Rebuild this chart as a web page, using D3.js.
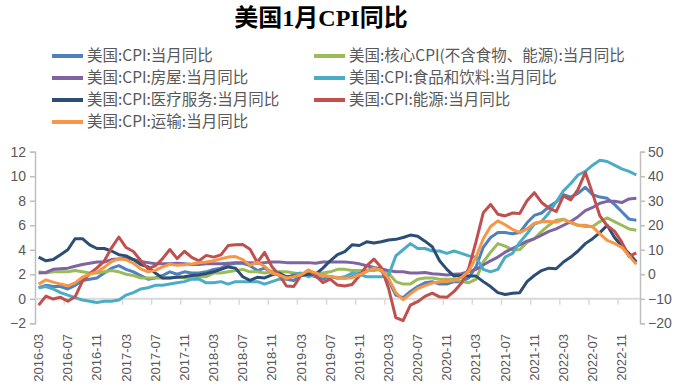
<!DOCTYPE html>
<html>
<head>
<meta charset="utf-8">
<script src="https://cdnjs.cloudflare.com/ajax/libs/d3/7.8.5/d3.min.js"></script>
<style>
  body { margin: 0; background: #fff; }
  svg { display: block; }
</style>
</head>
<body>
<div id="chart"></div>
<script>
// dimensions
var width = 677
var height = 387

// mois : 2016-03 à 2023-01
var months = d3.timeMonths(new Date(2016, 2, 1), new Date(2023, 1, 1)).map(d3.timeFormat("%Y-%m"))

// axe gauche (%)
var cpi = [0.9, 1.1, 1.0, 1.0, 0.8, 1.1, 1.5, 1.6, 1.7, 2.1,
  2.5, 2.7, 2.4, 2.2, 1.9, 1.6, 1.7, 1.9, 2.2, 2.0, 2.2, 2.1,
  2.1, 2.2, 2.4, 2.5, 2.8, 2.9, 2.9, 2.7, 2.3, 2.5, 2.2, 1.9,
  1.6, 1.5, 1.9, 2.0, 1.8, 1.6, 1.8, 1.7, 1.7, 1.8, 2.1, 2.3,
  2.5, 2.3, 1.5, 0.3, 0.1, 0.6, 1.0, 1.3, 1.4, 1.2, 1.2, 1.4,
  1.4, 1.7, 2.6, 4.2, 5.0, 5.4, 5.4, 5.3, 5.4, 6.2, 6.8, 7.0,
  7.5, 7.9, 8.5, 8.3, 8.6, 9.1, 8.5, 8.3, 8.2, 7.7, 7.1, 6.5,
  6.4]
var core = [2.2, 2.1, 2.2, 2.2, 2.2, 2.3, 2.2, 2.1, 2.1, 2.2,
  2.3, 2.2, 2.0, 1.9, 1.7, 1.7, 1.7, 1.7, 1.7, 1.8, 1.7, 1.8,
  1.8, 1.8, 2.1, 2.1, 2.2, 2.3, 2.4, 2.2, 2.2, 2.1, 2.2, 2.2,
  2.2, 2.1, 2.0, 2.1, 2.0, 2.1, 2.2, 2.4, 2.4, 2.3, 2.3, 2.3,
  2.3, 2.4, 2.1, 1.4, 1.2, 1.2, 1.6, 1.7, 1.7, 1.6, 1.6, 1.6,
  1.4, 1.3, 1.6, 3.0, 3.8, 4.5, 4.3, 4.0, 4.0, 4.6, 4.9, 5.5,
  6.0, 6.4, 6.5, 6.2, 6.0, 5.9, 5.9, 6.3, 6.6, 6.3, 6.0, 5.7,
  5.6]
var housing = [2.1, 2.15, 2.4, 2.45, 2.5, 2.65, 2.8, 2.9, 3.0, 3.0,
  3.2, 3.25, 3.3, 3.2, 3.05, 2.95, 2.85, 2.85, 2.85, 2.9, 2.85, 2.8,
  2.8, 2.85, 2.85, 2.85, 2.9, 2.95, 2.95, 2.95, 2.9, 2.95, 3.0, 3.0,
  2.95, 2.95, 2.95, 2.95, 2.9, 3.0, 3.0, 3.0, 3.0, 2.95, 2.85, 2.7,
  2.55, 2.45, 2.3, 2.2, 2.2, 2.1, 2.1, 2.15, 2.05, 2.0, 1.95, 2.0,
  2.05, 2.2, 2.4, 2.75, 3.1, 3.4, 3.8, 4.1, 4.4, 4.7, 4.9, 5.2,
  5.5, 5.7, 6.0, 6.3, 6.7, 7.2, 7.45, 7.8, 7.95, 7.95, 7.85, 8.15,
  8.2]
var food = [0.9, 1.0, 0.8, 0.5, 0.3, 0.1, -0.1, -0.2, -0.3, -0.2,
  -0.2, -0.1, 0.3, 0.5, 0.8, 0.9, 1.1, 1.1, 1.2, 1.3, 1.4, 1.6,
  1.6, 1.3, 1.3, 1.4, 1.2, 1.4, 1.4, 1.4, 1.4, 1.2, 1.4, 1.6,
  1.6, 2.0, 2.1, 1.8, 2.0, 1.9, 1.8, 1.7, 1.8, 2.1, 2.0, 1.8,
  1.8, 1.8, 1.9, 3.5, 4.0, 4.5, 4.1, 4.1, 3.9, 3.9, 3.7, 3.9,
  3.7, 3.5, 3.4, 2.4, 2.2, 2.4, 3.4, 3.7, 4.6, 5.3, 6.1, 6.3,
  7.0, 7.9, 8.8, 9.4, 10.1, 10.4, 10.9, 11.3, 11.2, 10.9, 10.6, 10.4,
  10.1]
var medical = [3.4, 3.1, 3.2, 3.6, 4.0, 4.9, 4.9, 4.4, 4.1, 4.1,
  3.9, 3.6, 3.5, 3.2, 2.8, 2.6, 2.1, 1.7, 1.7, 1.75, 1.8, 1.9,
  1.95, 2.05, 2.2, 2.4, 2.6, 2.5, 1.8, 1.5, 1.75, 1.7, 1.95, 2.1,
  1.8, 1.85, 1.9, 2.0, 2.0, 2.5, 3.1, 3.6, 3.85, 4.4, 4.35, 4.65,
  4.55, 4.65, 4.8, 4.85, 5.0, 5.2, 5.1, 4.7, 4.25, 3.1, 2.4, 1.85,
  1.9, 1.85, 1.85, 1.4, 1.0, 0.5, 0.35, 0.45, 0.5, 1.4, 1.9, 2.3,
  2.5, 2.45, 3.0, 3.4, 3.9, 4.5, 4.9, 5.4, 6.0, 5.0, 4.3, 3.7,
  3.0]

// axe droit (%)
var energy = [-12.6, -8.9, -10.1, -9.4, -11.0, -9.2, -2.9, 0.2, 2.6, 5.4,
  10.8, 15.2, 10.9, 9.3, 5.6, 2.3, 3.4, 6.4, 10.1, 6.4, 9.4, 6.9,
  5.5, 7.7, 7.0, 7.9, 11.7, 12.0, 12.1, 10.2, 4.8, 8.9, 3.1, -0.3,
  -4.8, -5.0, -0.4, 1.7, -0.6, -3.4, -2.0, -4.4, -4.8, -4.2, -0.6, 3.4,
  6.2, 2.8, -5.7, -17.7, -18.9, -12.6, -11.2, -9.0, -7.7, -9.2, -9.4, -7.0,
  -3.6, 2.4, 13.2, 25.1, 28.5, 24.5, 23.8, 25.0, 24.8, 30.0, 33.3, 29.3,
  27.0, 25.6, 32.0, 30.3, 34.6, 41.6, 32.9, 23.8, 19.8, 17.6, 13.1, 7.3,
  8.7]
var transport = [-4.0, -2.3, -3.2, -4.0, -4.7, -3.5, -1.2, 0.0, 1.0, 2.8,
  5.2, 6.3, 5.9, 4.5, 2.2, 1.0, 1.6, 3.0, 4.1, 3.7, 3.9, 4.2,
  4.7, 5.0, 5.5, 6.3, 7.0, 7.2, 6.0, 3.6, 4.9, 3.2, 0.5, -0.3,
  -1.5, -1.0, -0.2, 1.6, 0.6, -0.5, -0.9, -1.3, -1.6, -1.4, -0.2, 1.1,
  2.5, 1.7, -1.6, -7.5, -10.4, -8.0, -5.8, -4.6, -3.6, -3.1, -2.8, -2.6,
  -1.3, 1.2, 7.0, 14.5, 19.5, 21.8, 20.2, 18.3, 17.0, 18.5, 20.8, 21.4,
  21.5, 21.3, 22.3, 21.2, 20.0, 20.0, 19.3, 16.5, 13.8, 12.6, 11.0, 7.5,
  4.1]

var leftTicks = [-2, 0, 2, 4, 6, 8, 10, 12]
var rightTicks = [-20, -10, 0, 10, 20, 30, 40, 50]

var series = [
  { name: "美国:CPI:当月同比", values: cpi, color: "#4f81bd", axis: "left" },
  { name: "美国:核心CPI(不含食物、能源):当月同比", values: core, color: "#9bbb59", axis: "left" },
  { name: "美国:CPI:房屋:当月同比", values: housing, color: "#8064a2", axis: "left" },
  { name: "美国:CPI:食品和饮料:当月同比", values: food, color: "#4bacc6", axis: "left" },
  { name: "美国:CPI:医疗服务:当月同比", values: medical, color: "#2c4d75", axis: "left" },
  { name: "美国:CPI:能源:当月同比", values: energy, color: "#c0504d", axis: "right" },
  { name: "美国:CPI:运输:当月同比", values: transport, color: "#f79646", axis: "right" }
]

var svg = d3.select("#chart")
  .append("svg")
    .attr("width", width)
    .attr("height", height)

var grey = "#595959"
var axisGrey = "#bfbfbf"

// titre
svg.append("text")
  .attr("x", 321)
  .attr("y", 26)
  .attr("text-anchor", "middle")
  .style("font-family", "'Liberation Serif', 'Noto Sans CJK SC', serif")
  .style("font-weight", "bold")
  .style("font-size", "24px")
  .text("美国1月CPI同比")

// échelles
var x = d3.scalePoint()
  .domain(months)
  .range([35, 640])
  .padding(0.5)

var yLeft = d3.scaleLinear()
  .domain([-2, 12])
  .range([323.3, 151.7])

var yRight = d3.scaleLinear()
  .domain([-20, 50])
  .range([323.3, 151.7])

// axe gauche
var gLeft = svg.append("g")
  .attr("transform", "translate(35,0)")
  .call(d3.axisLeft(yLeft).tickValues(leftTicks).tickSize(5).tickPadding(4))
gLeft.select(".domain").attr("stroke", axisGrey).attr("stroke-width", 1.5)
gLeft.selectAll(".tick line").attr("stroke", axisGrey).attr("stroke-width", 1.5)
gLeft.selectAll(".tick text")
  .attr("fill", grey)
  .style("font-family", "'Liberation Sans', sans-serif")
  .style("font-size", "14px")

// axe droit
var gRight = svg.append("g")
  .attr("transform", "translate(640,0)")
  .call(d3.axisRight(yRight).tickValues(rightTicks).tickSize(5).tickPadding(3))
gRight.select(".domain").attr("stroke", axisGrey).attr("stroke-width", 1.5)
gRight.selectAll(".tick line").attr("stroke", axisGrey).attr("stroke-width", 1.5)
gRight.selectAll(".tick text")
  .attr("fill", grey)
  .style("font-family", "'Liberation Sans', sans-serif")
  .style("font-size", "14px")

// axe des x, au niveau du zéro
var step = x.step()
var zeroY = yLeft(0)
svg.append("line")
  .attr("x1", 35).attr("x2", 640)
  .attr("y1", zeroY).attr("y2", zeroY)
  .attr("stroke", "#d9d9d9")
  .attr("stroke-width", 2)

var labelMonths = months.filter(function(d, i){ return i % 4 == 0 && i < 82 })

svg.selectAll("xticks")
  .data(labelMonths.slice(1))
  .enter()
  .append("line")
    .attr("x1", function(d){ return x(d) - step / 2 })
    .attr("x2", function(d){ return x(d) - step / 2 })
    .attr("y1", zeroY)
    .attr("y2", zeroY + 6)
    .attr("stroke", "#d9d9d9")
    .attr("stroke-width", 1.5)

svg.selectAll("xlabels")
  .data(labelMonths)
  .enter()
  .append("text")
    .attr("transform", function(d){ return "translate(" + (x(d) + 4.5) + ",334) rotate(-90)" })
    .attr("text-anchor", "end")
    .attr("fill", grey)
    .style("font-family", "'Liberation Sans', sans-serif")
    .style("font-size", "13px")
    .text(function(d){ return d })

// courbes
var line = function(s) {
  var yScale = s.axis == "left" ? yLeft : yRight
  return d3.line()
    .x(function(d, i){ return x(months[i]) })
    .y(function(d){ return yScale(d) })(s.values)
}

svg.selectAll("series")
  .data(series)
  .enter()
  .append("path")
    .attr("d", line)
    .attr("fill", "none")
    .attr("stroke", function(d){ return d.color })
    .attr("stroke-width", 3)
    .attr("stroke-linejoin", "round")

// légende
var legendPos = [[52, 56], [314, 56], [52, 78], [314, 78], [52, 100], [314, 100], [52, 122]]

var legend = svg.selectAll("legend")
  .data(series)
  .enter()
  .append("g")
    .attr("transform", function(d, i){ return "translate(" + legendPos[i][0] + "," + legendPos[i][1] + ")" })

legend.append("line")
  .attr("x1", 0).attr("x2", 31)
  .attr("y1", 0).attr("y2", 0)
  .attr("stroke", function(d){ return d.color })
  .attr("stroke-width", 4)

legend.append("text")
  .attr("x", 35)
  .attr("y", 0)
  .attr("dy", "0.35em")
  .attr("fill", grey)
  .style("font-family", "'Noto Sans CJK SC', sans-serif")
  .style("font-size", "15.5px")
  .text(function(d){ return d.name })
</script>
</body>
</html>
